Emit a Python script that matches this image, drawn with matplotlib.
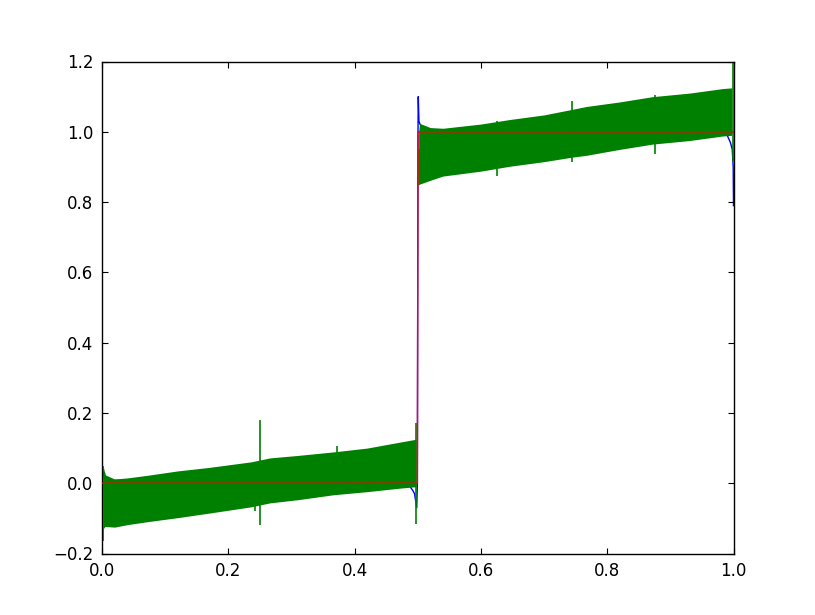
import matplotlib
matplotlib.use("Agg")
import matplotlib.pyplot as plt

# red: the exact step function
step_x = [0.0, 0.4995, 0.5005, 1.0]
step_y = [0.0, 0.0, 1.0, 1.0]

# blue: approximation, mostly hidden under green except near the jumps
blue_x = [0.0, 0.002, 0.004, 0.006, 0.01, 0.015, 0.02, 0.48, 0.488, 0.492,
          0.495, 0.4985, 0.4995, 0.5005, 0.5009, 0.502, 0.504, 0.507, 0.51, 0.52,
          0.98, 0.99, 0.995, 0.998, 0.9995, 1.0]
blue_y = [0.06, 0.02, 0.03, 0.012, 0.015, 0.005, 0.008, 0.0, -0.01, -0.02,
          -0.03, -0.07, 0.0, 1.0, 1.10, 1.03, 1.02, 1.015, 1.01, 1.0,
          1.0, 0.99, 0.97, 0.95, 0.90, 0.79]

# green: dense oscillating band, read as lower/upper envelope per half
green_lo_x = [0.002, 0.005, 0.02, 0.04, 0.07, 0.12, 0.17, 0.237, 0.266, 0.31, 0.366, 0.42, 0.472, 0.497]
green_lo_top = [0.05, 0.024, 0.012, 0.015, 0.022, 0.035, 0.045, 0.061, 0.072, 0.079, 0.089, 0.10, 0.117, 0.125]
green_lo_bot = [-0.13, -0.123, -0.125, -0.118, -0.11, -0.098, -0.085, -0.067, -0.056, -0.047, -0.033, -0.024, -0.014, -0.01]

green_hi_x = [0.5015, 0.503, 0.52, 0.54, 0.6, 0.646, 0.7, 0.745, 0.767, 0.82, 0.872, 0.93, 0.983, 0.997]
green_hi_top = [1.0, 1.024, 1.012, 1.010, 1.022, 1.035, 1.048, 1.064, 1.072, 1.085, 1.10, 1.11, 1.123, 1.125]
green_hi_bot = [0.85, 0.851, 0.862, 0.874, 0.888, 0.902, 0.915, 0.928, 0.933, 0.95, 0.965, 0.975, 0.988, 0.99]

# green outliers sticking out of the band
spike_x = [0.001, 0.242, 0.25, 0.372, 0.497, 0.5015, 0.625, 0.745, 0.875, 0.9985]
spike_top = [0.05, 0.06, 0.18, 0.106, 0.17, 0.95, 1.03, 1.087, 1.106, 1.2]
spike_bot = [-0.165, -0.08, -0.118, -0.03, -0.115, 0.85, 0.874, 0.914, 0.936, 0.917]

x_ticks = [0.0, 0.2, 0.4, 0.6, 0.8, 1.0]
y_ticks = [-0.2, 0.0, 0.2, 0.4, 0.6, 0.8, 1.0, 1.2]

plt.rcParams["font.family"] = "DejaVu Sans"
plt.rcParams["font.size"] = 12
plt.rcParams["xtick.direction"] = "in"
plt.rcParams["ytick.direction"] = "in"
plt.rcParams["xtick.top"] = True
plt.rcParams["ytick.right"] = True
plt.rcParams["xtick.major.size"] = 4
plt.rcParams["ytick.major.size"] = 4
plt.rcParams["xtick.major.pad"] = 6
plt.rcParams["ytick.major.pad"] = 6

fig = plt.figure(figsize=(8.15, 6.15), dpi=100, facecolor="white")
ax = fig.add_axes([0.125, 0.1, 0.775, 0.8])

ax.plot(blue_x, blue_y, color="b", lw=1.0, zorder=1)

green = (0.0, 0.5, 0.0)
ax.fill_between(green_lo_x, green_lo_bot, green_lo_top, color=green, lw=0, zorder=2)
ax.fill_between(green_hi_x, green_hi_bot, green_hi_top, color=green, lw=0, zorder=2)
ax.vlines(spike_x, spike_bot, spike_top, color=green, lw=1.2, zorder=2)

ax.plot(step_x, step_y, color="r", lw=1.0, zorder=3)

ax.set_xlim(0, 1)
ax.set_ylim(-0.2, 1.2)
ax.set_xticks(x_ticks)
ax.set_yticks(y_ticks)
for s in ax.spines.values():
    s.set_linewidth(1.0)

fig.savefig("out.png", dpi=100, facecolor="white")
